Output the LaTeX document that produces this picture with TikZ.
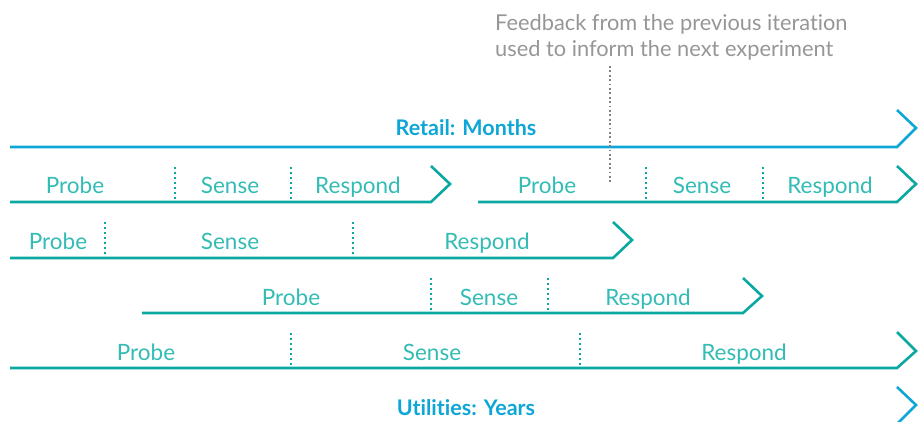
\documentclass[tikz,border=0pt]{standalone}
\usepackage{fontspec}
\setmainfont{Lato}[Ligatures={NoCommon}]
\begin{document}
\begin{tikzpicture}[x=1pt,y=-1pt,
  teal/.style={draw=tealc,line width=2.6pt,line join=miter},
  blue/.style={draw=bluec,line width=2.6pt,line join=miter},
  sep/.style={draw=tealc,line width=2.4pt,dash pattern=on 2pt off 3pt},
  lbl/.style={text=tealt,font=\fontsize{22.5}{24}\selectfont,inner sep=0pt,anchor=base},
  hdr/.style={text=bluec,font=\fontsize{21.5}{24}\selectfont\bfseries,inner sep=0pt,anchor=base},
  note/.style={text=grayt,font=\fontsize{21.8}{26}\selectfont,inner sep=0pt,align=left,anchor=north west}]
\definecolor{tealc}{RGB}{10,168,160}
\definecolor{tealt}{RGB}{50,188,180}
\definecolor{bluec}{RGB}{14,166,214}
\definecolor{grayt}{RGB}{150,150,150}
\definecolor{grayd}{RGB}{130,130,130}
\useasboundingbox (0,0) rectangle (923,421);
\clip (0,0) rectangle (923,421);
% Retail
\node[hdr] (retail) at (466,135) {Retail: Months};
\draw[blue] (10,147) -- (897,147) -- (916,128) -- (897,110);
% row 1a
\draw[teal] (10,202) -- (431,202) -- (450,184) -- (431,166);
\node[lbl] (p1) at (75,193) {Probe};
\node[lbl] (s1) at (230,193) {Sense};
\node[lbl] (r1) at (358,193) {Respond};
\coordinate (a1) at (175,167); \coordinate (b1) at (175,200);
\coordinate (c1) at (291,167); \coordinate (d1) at (291,200);
\draw[sep] (a1) -- (b1); \draw[sep] (c1) -- (d1);
% row 1b
\draw[teal] (478,202) -- (897,202) -- (916,184) -- (897,166);
\node[lbl] (p2) at (547,193) {Probe};
\node[lbl] (s2) at (702,193) {Sense};
\node[lbl] (r2) at (830,193) {Respond};
\coordinate (a2) at (646,167); \coordinate (b2) at (646,200);
\coordinate (c2) at (763,167); \coordinate (d2) at (763,200);
\draw[sep] (a2) -- (b2); \draw[sep] (c2) -- (d2);
% feedback
\node[note] (fb) at (495,14) {Feedback from the previous iteration\\used to inform the next experiment};
\coordinate (fbt) at (610,66); \coordinate (fbb) at (610,182);
\draw[draw=grayd,line width=2.2pt,dash pattern=on 1.8pt off 2.6pt] (fbt) -- (fbb);
% row 2
\draw[teal] (10,258) -- (613,258) -- (632,240) -- (613,222);
\node[lbl] (p3) at (58,249) {Probe};
\node[lbl] (s3) at (230,249) {Sense};
\node[lbl] (r3) at (487,249) {Respond};
\coordinate (a3) at (105,222); \coordinate (b3) at (105,256);
\coordinate (c3) at (353,222); \coordinate (d3) at (353,256);
\draw[sep] (a3) -- (b3); \draw[sep] (c3) -- (d3);
% row 3
\draw[teal] (142,313) -- (743,313) -- (762,296) -- (743,278);
\node[lbl] (p4) at (291,305) {Probe};
\node[lbl] (s4) at (489,305) {Sense};
\node[lbl] (r4) at (648,305) {Respond};
\coordinate (a4) at (431,278); \coordinate (b4) at (431,311);
\coordinate (c4) at (548,278); \coordinate (d4) at (548,311);
\draw[sep] (a4) -- (b4); \draw[sep] (c4) -- (d4);
% row 4
\draw[teal] (10,368) -- (897,368) -- (916,351) -- (897,332);
\node[lbl] (p5) at (146,360) {Probe};
\node[lbl] (s5) at (432,360) {Sense};
\node[lbl] (r5) at (744,360) {Respond};
\coordinate (a5) at (291,333); \coordinate (b5) at (291,366);
\coordinate (c5) at (580,333); \coordinate (d5) at (580,366);
\draw[sep] (a5) -- (b5); \draw[sep] (c5) -- (d5);
% Utilities
\node[hdr] (util) at (466,415) {Ut\kern0ptilit\kern0pties: Years};
\draw[blue] (10,424) -- (897,424) -- (916,405) -- (897,387);
\end{tikzpicture}
\end{document}
